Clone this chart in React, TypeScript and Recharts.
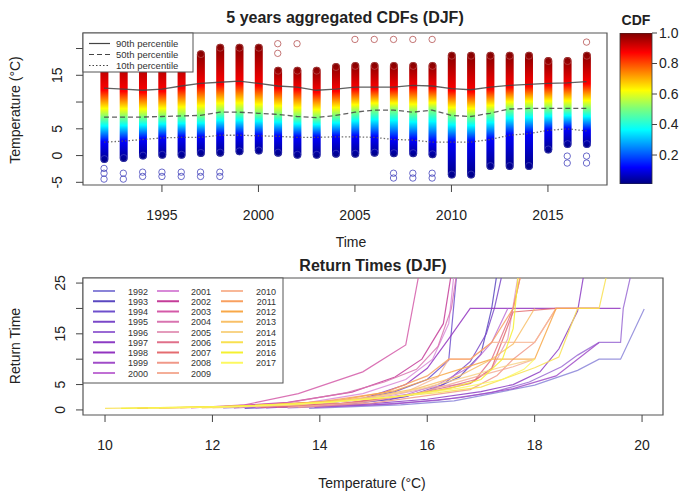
import React from "react";
import {
  Bar,
  BarChart,
  ComposedChart,
  Line,
  LineChart,
  ReferenceArea,
  Scatter,
  XAxis,
  YAxis
} from "recharts";

const FONT = '"Liberation Sans", Arial, Helvetica, sans-serif';
const INK = "#222";

// ---- top panel: 5 years aggregated CDFs ----
const years = [
  1992, 1993, 1994, 1995, 1996, 1997, 1998, 1999, 2000, 2001, 2002, 2003, 2004,
  2005, 2006, 2007, 2008, 2009, 2010, 2011, 2012, 2013, 2014, 2015, 2016, 2017
];
const columnLow = [
  -1.4, -1.2, -0.75, -0.6, -0.6, -0.25, -0.2, 0.05, 0.2, -0.2, -0.6, -0.6, -0.4,
  -0.4, -0.2, -0.3, -0.3, -0.5, -4.3, -4.3, -2.7, -2.7, -2.7, 0.4, 1.4, 1.4
];
const columnHigh = [
  19.5, 19.5, 19.5, 19.5, 19.5, 19.7, 20.9, 20.9, 20.9, 16.6, 16.6, 16.6, 17.3,
  17.5, 17.5, 17.5, 17.5, 17.5, 19.4, 19.4, 19.4, 19.4, 19.4, 18.4, 18.4, 19.4
];
const pct90 = [
  12.6, 12.4, 12.2, 12.4, 13.0, 13.5, 13.7, 13.9, 13.5, 13.0, 12.8, 12.2, 12.4,
  12.8, 12.8, 12.8, 13.1, 13.0, 12.5, 12.3, 12.8, 13.1, 13.3, 13.5, 13.6, 13.8
];
const pct50 = [
  7.2, 7.2, 7.2, 7.3, 7.4, 7.5, 8.1, 8.1, 7.9, 7.7, 7.3, 7.1, 7.5,
  8.1, 8.5, 8.5, 8.1, 8.5, 7.5, 7.3, 7.9, 8.7, 8.8, 8.8, 8.8, 8.8
];
const pct10 = [
  2.5, 2.7, 3.0, 3.3, 3.4, 3.4, 3.8, 3.8, 3.7, 3.6, 3.4, 3.4, 3.5,
  3.5, 3.4, 3.0, 2.9, 2.5, 2.5, 2.5, 3.0, 3.8, 4.1, 4.7, 5.0, 4.6
];

const lowOutliers = [
  { year: 1992, t: -2.4 }, { year: 1992, t: -3.3 }, { year: 1992, t: -4.4 },
  { year: 1993, t: -3.3 }, { year: 1993, t: -4.4 },
  { year: 1994, t: -3.1 }, { year: 1994, t: -3.9 },
  { year: 1995, t: -3.1 }, { year: 1995, t: -3.9 },
  { year: 1996, t: -3.1 }, { year: 1996, t: -3.9 },
  { year: 1997, t: -3.1 }, { year: 1997, t: -3.9 },
  { year: 1998, t: -3.1 }, { year: 1998, t: -3.9 },
  { year: 2007, t: -3.3 }, { year: 2007, t: -4.2 },
  { year: 2008, t: -3.3 }, { year: 2008, t: -4.2 },
  { year: 2009, t: -3.3 }, { year: 2009, t: -4.2 },
  { year: 2016, t: -0.1 }, { year: 2016, t: -1.4 },
  { year: 2017, t: -0.1 }, { year: 2017, t: -1.4 }
];
const highOutliers = [
  { year: 2001, t: 20.9 }, { year: 2001, t: 19.1 },
  { year: 2002, t: 20.9 },
  { year: 2005, t: 21.7 }, { year: 2006, t: 21.7 }, { year: 2007, t: 21.7 },
  { year: 2008, t: 21.7 }, { year: 2009, t: 21.7 },
  { year: 2017, t: 21.2 }
];

const timeTicks = [1995, 2000, 2005, 2010, 2015];
const tempTicks = [-5, 0, 5, 10, 15, 20];
const tempTickLabels = ["-5", "0", "5", "", "15", ""];
const cdfTicks = [0.2, 0.4, 0.6, 0.8, 1.0];
const percentileNames = ["90th percentile", "50th percentile", "10th percentile"];

// ---- bottom panel: return times, [temperature, return time] ----
const rt1992 = [[13.8, 0.3], [15.5, 1.0], [16.5, 1.8], [17.25, 3.3], [18.0, 4.9], [18.8, 7.8], [19.2, 10], [19.6, 10], [20.04, 19.9]];
const rt1993 = [[12.6, 0.3], [14.2, 1.0], [15.3, 2.0], [16.0, 3.6], [16.6, 6.5], [17.0, 11], [17.2, 20], [17.3, 27]];
const rt1994 = [[12.2, 0.4], [13.6, 1.0], [14.6, 1.9], [15.4, 3.6], [16.0, 6.0], [16.4, 9.8], [16.55, 27]];
const rt1995 = [[13.0, 0.4], [14.6, 1.2], [15.6, 2.6], [16.3, 5.0], [16.8, 9.5], [17.1, 15], [17.25, 20], [17.4, 27]];
const rt1996 = [[13.4, 0.4], [15.0, 1.0], [16.2, 1.9], [17.2, 3.4], [17.9, 5.5], [18.5, 8.5], [18.8, 10.8], [19.2, 13.3], [19.6, 13.3], [19.65, 20], [19.8, 27]];
const rt1997 = [[12.8, 0.4], [14.8, 1.1], [16.0, 2.1], [17.0, 3.6], [17.6, 5.0], [18.1, 7.5], [18.45, 12], [18.8, 19.5], [18.92, 27]];
const rt1998 = [[12.4, 0.4], [13.8, 1.0], [14.8, 2.2], [15.6, 5.0], [16.0, 8.2], [16.4, 14], [16.8, 20], [19.6, 20]];
const rt1999 = [[13.9, 0.5], [15.4, 1.2], [16.6, 2.4], [17.6, 4.2], [18.4, 6.7], [18.8, 10], [19.2, 13.3]];
const rt2000 = [[13.0, 0.5], [14.5, 1.3], [15.6, 3.0], [16.2, 5.0], [16.8, 8.5], [17.2, 13.3], [17.5, 20]];
const rt2001 = [[12.5, 0.5], [13.8, 1.5], [14.8, 3.2], [15.6, 6.0], [16.1, 10], [16.4, 17], [16.5, 27]];
const rt2002 = [[12.0, 0.5], [13.4, 1.5], [14.6, 3.5], [15.4, 6.5], [15.9, 10], [16.3, 17], [16.45, 27]];
const rt2003 = [[11.6, 0.4], [12.6, 1.0], [13.6, 3.2], [14.8, 7.5], [15.6, 12.8], [15.85, 27]];
const rt2004 = [[12.2, 0.5], [13.4, 1.4], [14.5, 3.4], [15.2, 5.5], [15.8, 8.0], [16.2, 12.5], [16.45, 20], [16.55, 27]];
const rt2005 = [[12.8, 0.5], [14.2, 1.4], [15.3, 2.8], [16.1, 4.5], [16.8, 5.2], [17.2, 8.0], [17.5, 14], [17.7, 27]];
const rt2006 = [[13.2, 0.5], [14.6, 1.4], [15.6, 2.8], [16.4, 4.6], [16.9, 6.0], [17.2, 10], [17.6, 20], [17.75, 27]];
const rt2007 = [[12.9, 0.5], [14.4, 1.3], [15.4, 2.6], [16.2, 3.8], [16.8, 5.2], [17.2, 8.2], [17.6, 19.3], [18.4, 20], [19.2, 20]];
const rt2008 = [[13.6, 0.5], [15.0, 1.4], [16.0, 2.8], [16.8, 4.0], [17.3, 6.8], [17.6, 10], [18.0, 13.3], [18.4, 20]];
const rt2009 = [[13.4, 0.5], [14.8, 1.5], [15.8, 3.2], [16.4, 5.0], [17.0, 6.8], [17.6, 8.5], [18.0, 10]];
const rt2010 = [[11.4, 0.4], [13.0, 0.9], [14.5, 2.0], [15.6, 3.5], [16.2, 6.5], [16.4, 10], [16.8, 10], [17.2, 13.3], [18.0, 13.3], [18.4, 20], [19.2, 20]];
const rt2011 = [[10.6, 0.3], [12.5, 0.7], [14.0, 1.6], [15.2, 3.4], [16.0, 6.7], [16.4, 10], [16.8, 10], [17.2, 13.3], [17.6, 20], [17.75, 27]];
const rt2012 = [[11.0, 0.35], [12.8, 0.8], [14.3, 1.8], [15.4, 3.8], [16.0, 6.0], [16.6, 8.0], [17.2, 10], [18.0, 10], [18.4, 20], [19.2, 20]];
const rt2013 = [[11.8, 0.4], [13.4, 1.0], [14.8, 2.3], [15.8, 4.2], [16.6, 6.7], [17.2, 10], [17.6, 13], [18.0, 20]];
const rt2014 = [[12.0, 0.4], [13.6, 1.0], [15.0, 2.4], [16.0, 4.5], [16.8, 6.7], [17.4, 8.5], [18.0, 10]];
const rt2015 = [[10.0, 0.3], [12.0, 0.6], [13.6, 1.2], [15.0, 2.2], [16.2, 3.4], [17.0, 4.5], [18.0, 8.3], [18.45, 10.4], [18.8, 20], [19.2, 20], [19.35, 27]];
const rt2016 = [[10.3, 0.3], [12.3, 0.7], [14.0, 1.4], [15.4, 2.6], [16.4, 4.2], [17.0, 6.0], [17.4, 10], [17.6, 16], [17.7, 27]];
const rt2017 = [[10.8, 0.35], [12.6, 0.7], [14.2, 1.5], [15.6, 2.8], [16.6, 4.3], [17.4, 6.0], [17.8, 8], [18.0, 10]];

const yearColors = [
  "#8a84d8", "#5a48c0", "#6e50cc", "#7a48c8", "#9a6ad4", "#8c3cc4", "#9234c0", "#a04cc8", "#c070d4",
  "#d88ad8", "#c43c98", "#d45aa8", "#d874b0", "#e49cbc", "#e0708a", "#e46c70", "#f09888", "#f4ae98",
  "#f8b898", "#f8a060", "#f8a848", "#f8c068", "#f8d488", "#f8e050", "#f4f030", "#fcf860"
];
const returnCurves = [
  rt1992, rt1993, rt1994, rt1995, rt1996, rt1997, rt1998, rt1999, rt2000, rt2001, rt2002, rt2003, rt2004,
  rt2005, rt2006, rt2007, rt2008, rt2009, rt2010, rt2011, rt2012, rt2013, rt2014, rt2015, rt2016, rt2017
];
const tempTicksBottom = [10, 12, 14, 16, 18, 20];
const rtTicks = [0, 5, 10, 15, 20, 25];
const rtTickLabels = ["0", "5", "", "15", "", "25"];

// jet colour ramp, CDF -> colour
const JET: [number, string][] = [
  [0, "#00007f"], [0.11, "#0000ff"], [0.36, "#00ffff"], [0.5, "#7dff7a"],
  [0.62, "#ffff00"], [0.87, "#ff0000"], [1, "#7f0000"]
];

const columnRows = years.map((year, i) => ({
  year,
  range: [columnLow[i], columnHigh[i]],
  p10: pct10[i],
  p50: pct50[i],
  p90: pct90[i]
}));

function tempAtCdf(knots: number[][], c: number) {
  for (let k = 1; k < knots.length; k++) {
    const [t0, c0] = knots[k - 1];
    const [t1, c1] = knots[k];
    if (c <= c1) return t0 + ((c - c0) / (c1 - c0)) * (t1 - t0);
  }
  return knots[knots.length - 1][0];
}

function ColumnGradient({ i }: { i: number }) {
  const lo = columnLow[i];
  const hi = columnHigh[i];
  const knots = [[lo, 0], [pct10[i], 0.1], [pct50[i], 0.5], [pct90[i], 0.9], [hi, 1]];
  return (
    <linearGradient id={`col${years[i]}`} x1="0" y1="0" x2="0" y2="1">
      {JET.slice().reverse().map(([c, color]) => (
        <stop key={c} offset={(hi - tempAtCdf(knots, c)) / (hi - lo)} stopColor={color} />
      ))}
    </linearGradient>
  );
}

function ColumnShape(props: any) {
  const { x, y, width, height, payload } = props;
  if (x == null || y == null) return null;
  const top = Math.min(y, y + height);
  const h = Math.abs(height);
  return (
    <g>
      <rect x={x} y={top} width={width} height={h} rx={width / 2} fill={`url(#col${payload.year})`} />
      <circle cx={x + width / 2} cy={top + width / 2} r={width / 2 - 0.5} fill="none" stroke="#c07070" strokeOpacity={0.5} />
      <circle cx={x + width / 2} cy={top + h - width / 2} r={width / 2 - 0.5} fill="none" stroke="#6060c8" strokeOpacity={0.5} />
    </g>
  );
}

function XTick(props: any) {
  const { x, y, payload } = props;
  return (
    <text x={x} y={y + 26} textAnchor="middle" fontSize={14} fill={INK} fontFamily={FONT}>
      {payload.value}
    </text>
  );
}

function makeYTick(labels: string[], gap: number) {
  return (props: any) => {
    const { x, y, index } = props;
    const lx = x - gap;
    return (
      <text x={lx} y={y} transform={`rotate(-90 ${lx} ${y})`} textAnchor="middle" fontSize={14} fill={INK} fontFamily={FONT}>
        {labels[index]}
      </text>
    );
  };
}

const ringShape = (color: string) => (props: any) =>
  <circle cx={props.cx} cy={props.cy} r={3.2} fill="none" stroke={color} strokeOpacity={0.75} strokeWidth={1} />;

function TopPanel() {
  return (
    <ComposedChart
      width={682}
      height={250}
      data={columnRows}
      margin={{ top: 33, right: 75, bottom: 20, left: 43 }}
    >
      <defs>
        {years.map((y, i) => <ColumnGradient key={y} i={i} />)}
      </defs>
      <XAxis
        dataKey="year"
        type="number"
        domain={[1990.91, 2018.06]}
        allowDataOverflow
        ticks={timeTicks}
        interval={0}
        height={45}
        axisLine={false}
        tickLine={{ stroke: "#444" }}
        tickSize={7}
        tick={<XTick />}
      />
      <YAxis
        type="number"
        domain={[-5.5, 22.9]}
        allowDataOverflow
        ticks={tempTicks}
        interval={0}
        width={40}
        axisLine={false}
        tickLine={{ stroke: "#444" }}
        tickSize={7}
        tick={makeYTick(tempTickLabels, 12)}
      />
      <ReferenceArea x1={1990.91} x2={2018.06} y1={-5.5} y2={22.9} fill="none" stroke="#555" strokeWidth={1.2} ifOverflow="visible" />
      <Bar dataKey="range" barSize={8} shape={<ColumnShape />} isAnimationActive={false} />
      <Scatter data={lowOutliers} dataKey="t" shape={ringShape("#3a3ab8")} isAnimationActive={false} />
      <Scatter data={highOutliers} dataKey="t" shape={ringShape("#b04848")} isAnimationActive={false} />
      <Line dataKey="p90" stroke="#444" strokeWidth={1.3} strokeOpacity={0.85} dot={false} isAnimationActive={false} />
      <Line dataKey="p50" stroke="#444" strokeWidth={1.3} strokeOpacity={0.85} strokeDasharray="5 3" dot={false} isAnimationActive={false} />
      <Line dataKey="p10" stroke="#555" strokeWidth={1.3} strokeOpacity={0.85} strokeDasharray="1.5 2" dot={false} isAnimationActive={false} />
    </ComposedChart>
  );
}

function ColorBar() {
  return (
    <BarChart
      width={82}
      height={250}
      data={[{ name: "CDF", range: [0.01, 1] }]}
      margin={{ top: 33, right: 0, bottom: 66, left: 20 }}
      barCategoryGap={0}
    >
      <defs>
        <linearGradient id="jetbar" x1="0" y1="0" x2="0" y2="1">
          {JET.slice().reverse().map(([c, color]) => (
            <stop key={c} offset={1 - c} stopColor={color} />
          ))}
        </linearGradient>
      </defs>
      <XAxis dataKey="name" hide />
      <YAxis
        orientation="right"
        type="number"
        domain={[0.01, 1]}
        allowDataOverflow
        ticks={cdfTicks}
        interval={0}
        width={30}
        axisLine={false}
        tickLine={{ stroke: "#444" }}
        tickSize={5}
        tickFormatter={(v: number) => v.toFixed(1)}
        tick={{ fontSize: 14, fill: INK, fontFamily: FONT }}
      />
      <Bar dataKey="range" fill="url(#jetbar)" stroke="#333" strokeWidth={0.8} isAnimationActive={false} />
    </BarChart>
  );
}

function BottomPanel() {
  return (
    <LineChart width={682} height={243} margin={{ top: 28, right: 19, bottom: 38, left: 43 }}>
      <XAxis
        dataKey="t"
        type="number"
        domain={[9.59, 20.39]}
        allowDataOverflow
        ticks={tempTicksBottom}
        interval={0}
        height={40}
        axisLine={false}
        tickLine={{ stroke: "#444" }}
        tickSize={7}
        tick={<XTick />}
      />
      <YAxis
        type="number"
        domain={[-1, 26]}
        allowDataOverflow
        ticks={rtTicks}
        interval={0}
        width={40}
        axisLine={false}
        tickLine={{ stroke: "#444" }}
        tickSize={7}
        tick={makeYTick(rtTickLabels, 9)}
      />
      <ReferenceArea x1={9.59} x2={20.39} y1={-1} y2={26} fill="none" stroke="#555" strokeWidth={1.2} ifOverflow="visible" />
      {returnCurves.map((curve, i) => (
        <Line
          key={years[i]}
          data={curve.map(([t, rt]) => ({ t, rt }))}
          dataKey="rt"
          stroke={yearColors[i]}
          strokeWidth={1.2}
          strokeOpacity={0.85}
          dot={false}
          isAnimationActive={false}
        />
      ))}
    </LineChart>
  );
}

function Overlay() {
  const rowGap = 10.25;
  return (
    <svg width={682} height={493} style={{ position: "absolute", left: 0, top: 0, pointerEvents: "none" }} fontFamily={FONT}>
      <text x={345} y={23} textAnchor="middle" fontSize={16} fontWeight="bold" fill={INK}>5 years aggregated CDFs (DJF)</text>
      <text x={351} y={247} textAnchor="middle" fontSize={14} fill={INK}>Time</text>
      <text x={20} y={110} transform="rotate(-90 20 110)" textAnchor="middle" fontSize={14} fill={INK}>Temperature (°C)</text>
      <text x={636} y={25} textAnchor="middle" fontSize={14} fontWeight="bold" fill={INK}>CDF</text>
      <text x={373} y={271} textAnchor="middle" fontSize={16} fontWeight="bold" fill={INK}>Return Times (DJF)</text>
      <text x={372} y={488} textAnchor="middle" fontSize={14} fill={INK}>Temperature (°C)</text>
      <text x={20} y={346} transform="rotate(-90 20 346)" textAnchor="middle" fontSize={14} fill={INK}>Return Time</text>

      {/* percentile legend */}
      <g transform="translate(83,33)">
        <rect x={0} y={0} width={110} height={39} fill="#fff" stroke="#555" strokeWidth={1} />
        {percentileNames.map((name, i) => (
          <g key={name}>
            <line
              x1={6}
              x2={27}
              y1={10.5 + i * 11}
              y2={10.5 + i * 11}
              stroke="#444"
              strokeWidth={1.2}
              strokeDasharray={i === 0 ? undefined : i === 1 ? "5 3" : "1.5 2"}
            />
            <text x={33} y={13.5 + i * 11} fontSize={9.5} fill="#333">{name}</text>
          </g>
        ))}
      </g>

      {/* year legend */}
      <g transform="translate(83,278)">
        <rect x={0} y={0} width={200} height={105} fill="#fff" stroke="#555" strokeWidth={1} />
        {years.map((year, i) => {
          const col = Math.floor(i / 9);
          const row = i % 9;
          const lx = [10, 74, 138][col];
          const tx = [65, 128, 193][col];
          const y = 13 + row * rowGap;
          return (
            <g key={year}>
              <line x1={lx} x2={lx + 22} y1={y} y2={y} stroke={yearColors[i]} strokeWidth={2} />
              <text x={tx} y={y + 3.5} textAnchor="end" fontSize={9} fill="#333">{year}</text>
            </g>
          );
        })}
      </g>
    </svg>
  );
}

export default function App() {
  return (
    <div style={{ position: "absolute", left: 0, top: 0, width: 682, height: 493, background: "#fff", fontFamily: FONT }}>
      <div style={{ position: "absolute", left: 0, top: 0 }}>
        <TopPanel />
      </div>
      <div style={{ position: "absolute", left: 600, top: 0 }}>
        <ColorBar />
      </div>
      <div style={{ position: "absolute", left: 0, top: 250 }}>
        <BottomPanel />
      </div>
      <Overlay />
    </div>
  );
}
